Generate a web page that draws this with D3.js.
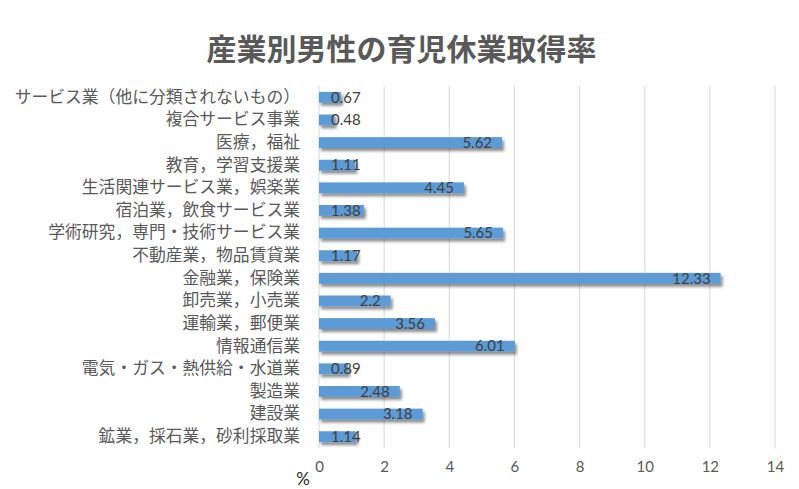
<!DOCTYPE html>
<html>
<head>
<meta charset="utf-8">
<script src="https://cdn.jsdelivr.net/npm/d3@7"></script>
<style>
  body { margin: 0; background: #fff; }
</style>
</head>
<body>
<div id="wrapper"></div>
<script>
const categories = [
  "サービス業（他に分類されないもの）",
  "複合サービス事業",
  "医療，福祉",
  "教育，学習支援業",
  "生活関連サービス業，娯楽業",
  "宿泊業，飲食サービス業",
  "学術研究，専門・技術サービス業",
  "不動産業，物品賃貸業",
  "金融業，保険業",
  "卸売業，小売業",
  "運輸業，郵便業",
  "情報通信業",
  "電気・ガス・熱供給・水道業",
  "製造業",
  "建設業",
  "鉱業，採石業，砂利採取業"
]
const values = [0.67, 0.48, 5.62, 1.11, 4.45, 1.38, 5.65, 1.17, 12.33, 2.2, 3.56, 6.01, 0.89, 2.48, 3.18, 1.14]
const xTicks = [0, 2, 4, 6, 8, 10, 12, 14]
const title = "産業別男性の育児休業取得率"
const unitLabel = "%"

const data = categories.map((c, i) => ({ category: c, value: values[i] }))
const xAccessor = d => d.value
const yAccessor = d => d.category

const dimensions = {
  width: 799,
  height: 489,
  margin: { top: 86, right: 24, bottom: 41, left: 319 }
}
dimensions.boundedWidth = dimensions.width - dimensions.margin.left - dimensions.margin.right
dimensions.boundedHeight = dimensions.height - dimensions.margin.top - dimensions.margin.bottom

const jpFont = "'Noto Sans CJK JP', 'Noto Sans', sans-serif"
const numFont = "Lato, 'Open Sans', sans-serif"

const wrapper = d3.select("#wrapper")
  .append("svg")
  .attr("width", dimensions.width)
  .attr("height", dimensions.height)

// shadow under the bars
const defs = wrapper.append("defs")
defs.append("filter")
  .attr("id", "shadow")
  .attr("x", "-10%").attr("y", "-50%")
  .attr("width", "130%").attr("height", "250%")
  .append("feDropShadow")
  .attr("dx", 2).attr("dy", 3)
  .attr("stdDeviation", 1.6)
  .attr("flood-color", "#000")
  .attr("flood-opacity", 0.45)

wrapper.append("text")
  .attr("x", dimensions.width / 2 + 2)
  .attr("y", 60)
  .attr("text-anchor", "middle")
  .style("font-family", jpFont)
  .style("font-size", "30px")
  .style("font-weight", "bold")
  .style("fill", "#595959")
  .text(title)

const bounds = wrapper.append("g")
  .attr("transform", `translate(${dimensions.margin.left},${dimensions.margin.top})`)

const xScale = d3.scaleLinear()
  .domain([0, 14])
  .range([0, 456])

const yScale = d3.scaleBand()
  .domain(categories)
  .range([0, 362])
  .paddingInner(0.52)
  .paddingOuter(0.26)

// gridlines
bounds.append("g")
  .selectAll("line")
  .data(xTicks)
  .join("line")
  .attr("x1", d => xScale(d))
  .attr("x2", d => xScale(d))
  .attr("y1", 0)
  .attr("y2", 362)
  .attr("stroke", "#d9d9d9")
  .attr("stroke-width", 1)

// x axis labels
const xAxis = bounds.append("g")
  .attr("transform", "translate(0,362)")
  .call(d3.axisBottom(xScale).tickValues(xTicks).tickSize(0).tickPadding(13))
xAxis.select(".domain").remove()
xAxis.selectAll("text")
  .style("font-family", numFont)
  .style("font-size", "15px")
  .style("fill", "#595959")

// y axis labels
const yAxis = bounds.append("g")
  .call(d3.axisLeft(yScale).tickSize(0).tickPadding(19))
yAxis.select(".domain").remove()
yAxis.selectAll("text")
  .style("font-family", jpFont)
  .style("font-size", "16.8px")
  .style("fill", "#595959")

// bars
const barGroups = bounds.append("g")
  .selectAll("g")
  .data(data)
  .join("g")

barGroups.append("rect")
  .attr("x", 0)
  .attr("y", d => yScale(yAccessor(d)))
  .attr("width", d => xScale(xAccessor(d)))
  .attr("height", yScale.bandwidth())
  .attr("fill", "#5b9bd5")
  .attr("filter", "url(#shadow)")

// value labels, inside end, kept off the base
barGroups.append("text")
  .attr("y", d => yScale(yAccessor(d)) + yScale.bandwidth() / 2)
  .attr("dy", "0.35em")
  .style("font-family", numFont)
  .style("font-size", "15px")
  .style("fill", "#404040")
  .text(xAccessor)
  .each(function (d) {
    const w = this.getComputedTextLength()
    const right = Math.max(xScale(xAccessor(d)) - 10, 12 + w)
    d3.select(this).attr("x", right - w)
  })

wrapper.append("text")
  .attr("x", 303)
  .attr("y", 485)
  .attr("text-anchor", "middle")
  .style("font-family", numFont)
  .style("font-size", "17px")
  .style("fill", "#262626")
  .text(unitLabel)
</script>
</body>
</html>
